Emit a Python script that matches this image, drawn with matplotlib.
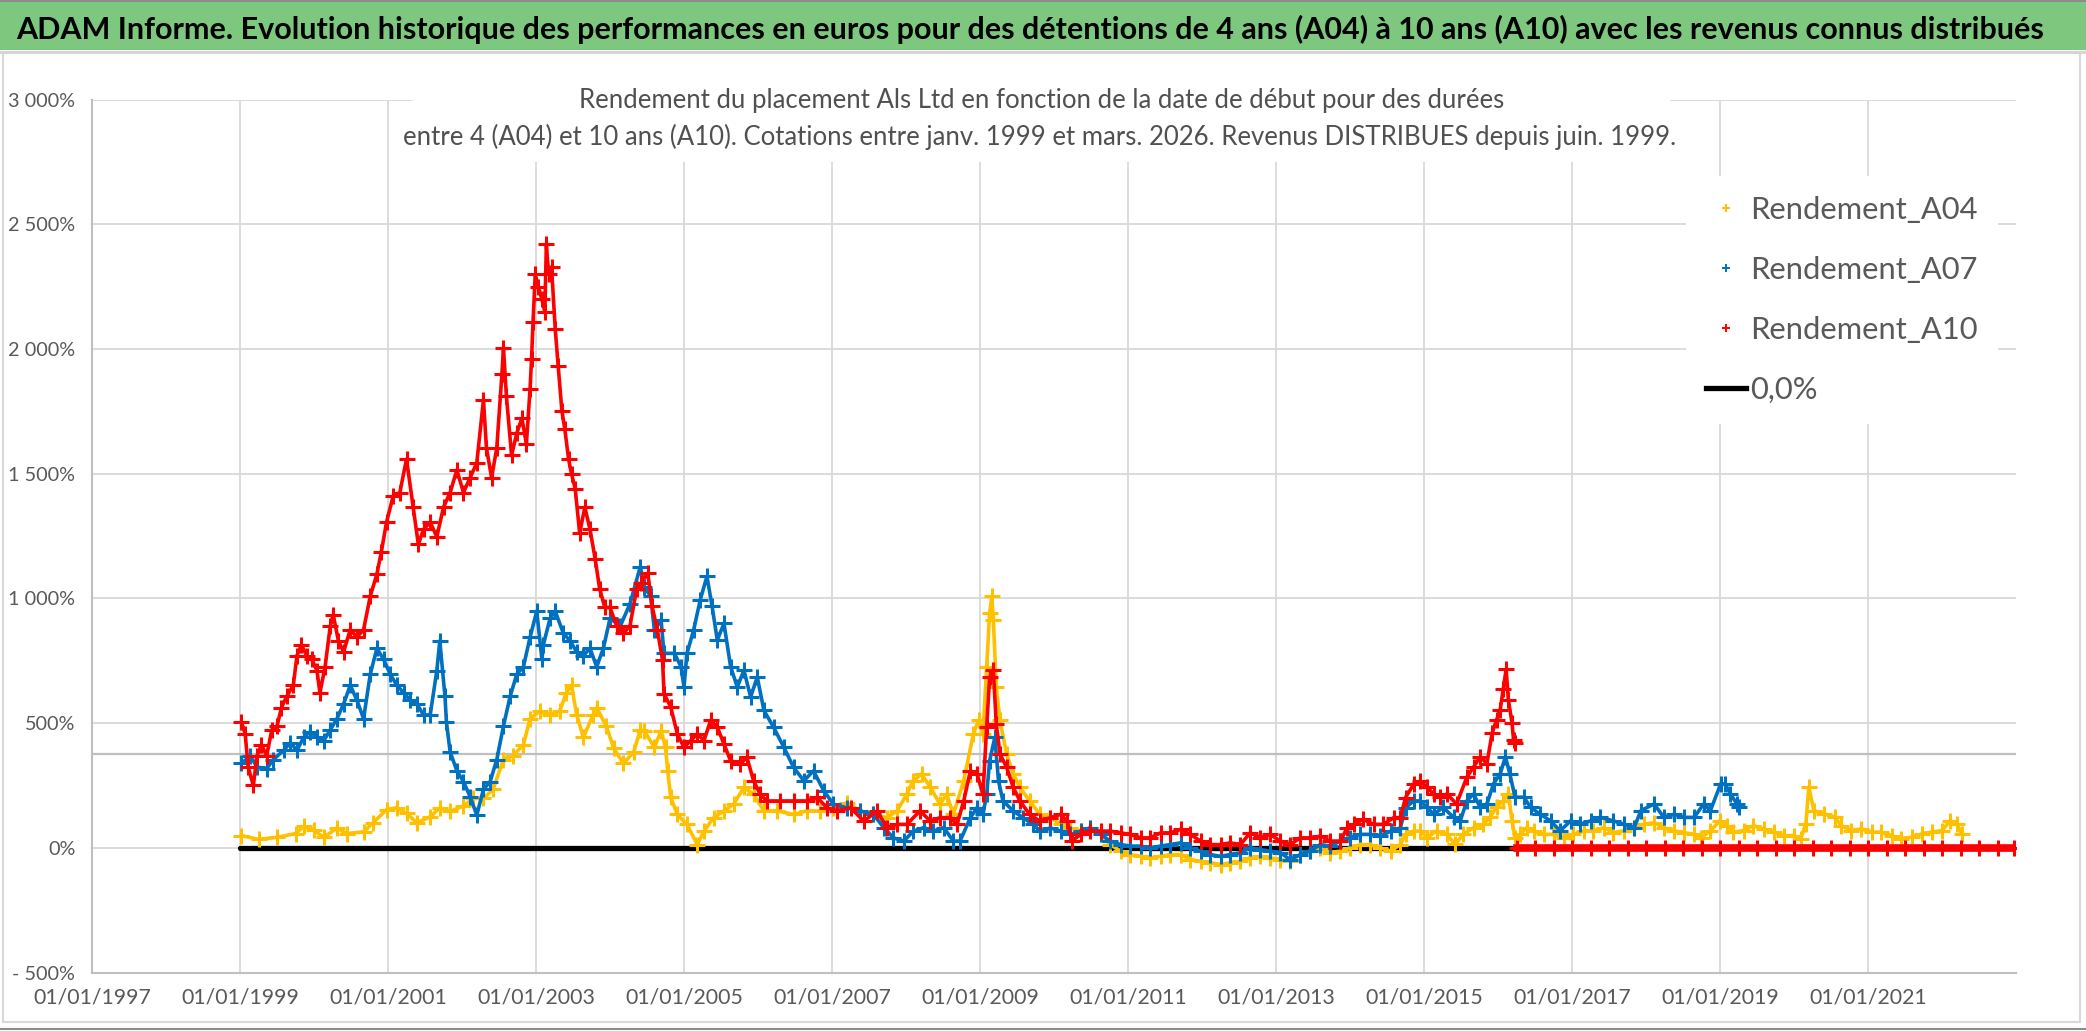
import matplotlib
matplotlib.use("Agg")
import matplotlib.pyplot as plt
from matplotlib.lines import Line2D
from matplotlib.patches import Rectangle
from matplotlib.ticker import FixedLocator, FuncFormatter

# ---- data (x in decimal years, y in %) ----
a04_years = [1999.02, 1999.25, 1999.50, 1999.75, 1999.86, 2000.00, 2000.13, 2000.31, 2000.44, 2000.67,
             2000.80, 2000.98, 2001.12, 2001.25, 2001.39, 2001.57, 2001.70, 2001.84, 2002.02, 2002.15,
             2002.29, 2002.42, 2002.56, 2002.69, 2002.83, 2002.92, 2003.05, 2003.19, 2003.32, 2003.41,
             2003.48, 2003.55, 2003.64, 2003.77, 2003.82, 2003.95, 2004.05, 2004.18, 2004.32, 2004.41,
             2004.46, 2004.60, 2004.69, 2004.75, 2004.78, 2004.82, 2004.91, 2005.04, 2005.18, 2005.27,
             2005.40, 2005.54, 2005.67, 2005.81, 2005.94, 2006.08, 2006.26, 2006.48, 2006.66, 2006.84,
             2007.02, 2007.20, 2007.38, 2007.56, 2007.74, 2007.88, 2008.01, 2008.10, 2008.21, 2008.33,
             2008.46, 2008.55, 2008.64, 2008.78, 2008.91, 2008.98, 2009.04, 2009.09, 2009.13, 2009.16,
             2009.18, 2009.22, 2009.27, 2009.36, 2009.45, 2009.54, 2009.67, 2009.81,
             2009.95, 2010.09, 2010.22, 2010.36, 2010.49, 2010.63, 2010.76, 2010.90, 2011.03, 2011.17,
             2011.30, 2011.44, 2011.57, 2011.71, 2011.84, 2011.98, 2012.11, 2012.25, 2012.38, 2012.52,
             2012.65, 2012.79, 2012.92, 2013.06, 2013.19, 2013.33, 2013.46, 2013.60, 2013.73, 2013.87,
             2014.00, 2014.14, 2014.27, 2014.41, 2014.55, 2014.68, 2014.75, 2014.86, 2014.95,
             2015.04, 2015.17, 2015.31, 2015.42, 2015.53, 2015.67, 2015.80, 2015.89, 2015.98, 2016.07,
             2016.14, 2016.19, 2016.23, 2016.30, 2016.39, 2016.48, 2016.62, 2016.75, 2016.89, 2017.02,
             2017.16, 2017.29, 2017.43, 2017.56, 2017.70, 2017.84, 2017.97, 2018.11, 2018.24, 2018.38,
             2018.51, 2018.65, 2018.74, 2018.87,
             2019.00, 2019.09, 2019.18, 2019.32, 2019.45, 2019.59, 2019.73, 2019.86, 2020.00, 2020.09,
             2020.16, 2020.20, 2020.27, 2020.41, 2020.55, 2020.64, 2020.77, 2020.91, 2021.05, 2021.18,
             2021.32, 2021.45, 2021.59, 2021.73, 2021.86, 2022.00, 2022.11, 2022.20, 2022.27]
a04_values = [49, 34, 42, 57, 86, 71, 42, 79, 57, 64,
              101, 153, 161, 138, 101, 124, 161, 146, 168, 198,
              198, 235, 354, 369, 414, 518, 548, 533, 548, 622,
              652, 533, 443, 533, 562, 488, 399, 339, 384, 473,
              470, 403, 470, 403, 309, 202, 134, 94, 13, 67,
              121, 148, 175, 242, 215, 148, 148, 134, 148, 148,
              161, 181, 148, 134, 121, 148, 215, 269, 296, 242,
              175, 215, 134, 269, 457, 511, 457, 726, 941, 1008,
              914, 645, 511, 376, 296, 242, 188, 134,
              121, 94, 80, 67, 80, 54, 13, -13, -27, -34,
              -40, -34, -27, -27, -47, -54, -60, -67, -60, -54,
              -40, -34, -40, -47, -54, -27, -13, 0, -20, -13,
              0, 13, 13, 0, -13, 13, 54, 67, 67,
              41, 68, 54, 14, 54, 81, 95, 122, 162, 189,
              216, 108, 41, 54, 81, 68, 54, 54, 41, 54,
              68, 68, 81, 61, 68, 81, 95, 101, 81, 68,
              61, 54, 41, 68,
              109, 89, 63, 69, 89, 76, 63, 49, 49, 36,
              96, 243, 149, 136, 123, 89, 69, 76, 63, 63,
              49, 36, 43, 56, 63, 69, 109, 96, 56]

a07_years = [1999.02, 1999.14, 1999.23, 1999.36, 1999.45, 1999.59, 1999.68, 1999.77, 1999.86, 1999.95,
             2000.04, 2000.13, 2000.22, 2000.31, 2000.40, 2000.49, 2000.58, 2000.67, 2000.76, 2000.85,
             2000.94, 2001.03, 2001.12, 2001.21, 2001.30, 2001.39, 2001.48, 2001.57, 2001.66, 2001.70,
             2001.77, 2001.79, 2001.84, 2001.93, 2002.02, 2002.11, 2002.20, 2002.29, 2002.38, 2002.47,
             2002.56, 2002.65, 2002.74, 2002.83, 2002.92, 2003.01, 2003.08, 2003.10, 2003.19, 2003.26,
             2003.37, 2003.46, 2003.55, 2003.64, 2003.73, 2003.82, 2003.91, 2004.00, 2004.14, 2004.27,
             2004.41,
             2004.46, 2004.55, 2004.60, 2004.69, 2004.73, 2004.87, 2004.96, 2005.00, 2005.04, 2005.13,
             2005.22, 2005.31, 2005.38, 2005.45, 2005.54, 2005.63, 2005.72, 2005.81, 2005.90, 2005.99,
             2006.08, 2006.21, 2006.35, 2006.48, 2006.62, 2006.75, 2006.89, 2007.02, 2007.20, 2007.38,
             2007.56, 2007.70, 2007.83, 2007.97, 2008.10, 2008.24, 2008.37, 2008.51, 2008.64, 2008.73,
             2008.87, 2008.96, 2009.04, 2009.09, 2009.13, 2009.20, 2009.25, 2009.31, 2009.45, 2009.58,
             2009.72, 2009.81,
             2009.95, 2010.09, 2010.22, 2010.36, 2010.49, 2010.63, 2010.76, 2010.90, 2011.03, 2011.17,
             2011.30, 2011.44, 2011.57, 2011.71, 2011.84, 2011.98, 2012.11, 2012.25, 2012.38, 2012.52,
             2012.65, 2012.79, 2012.92, 2013.06, 2013.19, 2013.33, 2013.46, 2013.60, 2013.73, 2013.87,
             2014.00, 2014.14, 2014.27, 2014.41, 2014.55, 2014.68, 2014.75, 2014.86, 2014.95,
             2015.04, 2015.13, 2015.26, 2015.40, 2015.49, 2015.58, 2015.67, 2015.76, 2015.85, 2015.94,
             2016.03, 2016.10, 2016.16, 2016.23, 2016.35, 2016.44, 2016.57, 2016.71, 2016.84, 2016.98,
             2017.11, 2017.25, 2017.38, 2017.56, 2017.70, 2017.84, 2017.93, 2018.11, 2018.24, 2018.38,
             2018.51, 2018.65, 2018.78, 2018.87, 2019.01,
             2019.07, 2019.14, 2019.23, 2019.25]
a07_values = [339, 369, 324, 317, 354, 391, 421, 391, 443, 466,
              443, 429, 473, 518, 577, 652, 592, 518, 696, 800,
              756, 696, 652, 622, 592, 577, 533, 533, 711, 830,
              607, 503, 384, 310, 265, 205, 131, 235, 265, 354,
              488, 607, 696, 726, 845, 949, 756, 815, 920, 949,
              860, 830, 786, 771, 800, 726, 800, 920, 890, 979,
              1128,
              1048, 1008, 873, 914, 780, 780, 726, 645, 780, 873,
              995, 1089, 968, 833, 900, 726, 645, 712, 605, 685,
              551, 484, 403, 323, 269, 309, 228, 175, 161, 148,
              134, 81, 40, 27, 67, 81, 67, 81, 27, 27,
              121, 161, 134, 215, 349, 443, 269, 188, 148, 121,
              94, 67,
              80, 67, 54, 67, 80, 54, 27, 13, 7, 7,
              0, 7, 13, 20, 0, -13, -27, -34, -27, -20,
              0, -7, -13, -20, -47, -27, -13, 13, 7, 27,
              40, 54, 54, 47, 67, 80, 161, 188, 188,
              162, 135, 162, 122, 108, 189, 216, 162, 176, 257,
              297, 365, 297, 203, 203, 162, 135, 108, 68, 108,
              95, 108, 122, 108, 95, 81, 149, 176, 122, 135,
              122, 122, 176, 149, 257,
              256, 216, 176, 163]

a10_years = [1999.02, 1999.07, 1999.11, 1999.18, 1999.23, 1999.29, 1999.36, 1999.43, 1999.50, 1999.56,
             1999.63, 1999.72, 1999.77, 1999.83, 1999.90, 1999.97, 2000.04, 2000.08, 2000.15, 2000.22,
             2000.26, 2000.33, 2000.40, 2000.49, 2000.58, 2000.67, 2000.76, 2000.85, 2000.91, 2000.98,
             2001.07, 2001.16, 2001.25, 2001.34, 2001.41, 2001.48, 2001.57, 2001.66, 2001.75, 2001.84,
             2001.93, 2002.02, 2002.11, 2002.20, 2002.29, 2002.33, 2002.40, 2002.47, 2002.54, 2002.56,
             2002.60, 2002.67, 2002.74, 2002.81, 2002.87, 2002.92, 2002.94, 2002.96, 2002.99, 2003.03,
             2003.08, 2003.12, 2003.14, 2003.17, 2003.21, 2003.26, 2003.30, 2003.35, 2003.39, 2003.44,
             2003.48, 2003.53, 2003.59, 2003.66, 2003.73, 2003.80, 2003.86, 2003.93, 2004.00, 2004.09,
             2004.18, 2004.27, 2004.36, 2004.42,
             2004.51, 2004.57, 2004.64, 2004.71, 2004.73, 2004.82, 2004.91, 2005.00, 2005.09, 2005.18,
             2005.27, 2005.36, 2005.45, 2005.54, 2005.63, 2005.76, 2005.85, 2005.94, 2006.03, 2006.12,
             2006.30, 2006.48, 2006.66, 2006.80, 2006.93, 2007.07, 2007.25, 2007.43, 2007.61, 2007.74,
             2007.88, 2008.01, 2008.19, 2008.33, 2008.46, 2008.60, 2008.69, 2008.78, 2008.87, 2008.96,
             2009.04, 2009.09, 2009.13, 2009.18, 2009.22, 2009.27, 2009.36, 2009.45, 2009.54, 2009.67,
             2009.81,
             2009.95, 2010.09, 2010.18, 2010.24, 2010.36, 2010.49, 2010.63, 2010.76, 2010.90, 2011.03,
             2011.17, 2011.30, 2011.44, 2011.57, 2011.71, 2011.84, 2011.98, 2012.11, 2012.25, 2012.38,
             2012.52, 2012.65, 2012.79, 2012.92, 2013.06, 2013.19, 2013.33, 2013.46, 2013.60, 2013.73,
             2013.87, 2013.96, 2014.05, 2014.18, 2014.32, 2014.45, 2014.59, 2014.68, 2014.75, 2014.86,
             2014.95,
             2015.04, 2015.13, 2015.22, 2015.31, 2015.44, 2015.58, 2015.67, 2015.76, 2015.85, 2015.92,
             2015.98, 2016.03, 2016.07, 2016.11, 2016.14, 2016.19, 2016.21, 2016.23]
a10_values = [503, 458, 324, 250, 369, 414, 369, 473, 488, 562,
              607, 652, 771, 815, 771, 756, 711, 622, 726, 890,
              934, 830, 786, 875, 845, 875, 1009, 1098, 1187, 1306,
              1411, 1425, 1559, 1366, 1217, 1277, 1306, 1247, 1366, 1425,
              1515, 1425, 1485, 1544, 1797, 1604, 1485, 1604, 1902, 2006,
              1812, 1574, 1663, 1723, 1619, 1842, 1961, 2110, 2300, 2250,
              2200, 2150, 2420, 2300, 2330, 2080, 1931, 1753, 1678, 1559,
              1500, 1440, 1262, 1366, 1277, 1158, 1039, 964, 964, 890,
              860, 890, 1039, 1062,
              1102, 968, 873, 753, 618, 565, 457, 403, 430, 457,
              430, 511, 484, 417, 349, 336, 363, 269, 215, 188,
              188, 188, 188, 202, 161, 148, 161, 107, 148, 81,
              94, 94, 148, 107, 121, 121, 94, 188, 309, 296,
              215, 484, 685, 712, 497, 376, 323, 242, 188, 134,
              107,
              121, 134, 107, 27, 54, 67, 67, 67, 60, 54,
              40, 40, 60, 60, 74, 54, 27, 13, 13, 20,
              13, 60, 40, 54, 27, 13, 40, 40, 47, 27,
              27, 80, 94, 114, 94, 94, 121, 121, 201, 255,
              268,
              243, 216, 203, 216, 176, 284, 324, 365, 338, 459,
              513, 554, 635, 716, 594, 500, 432, 419]
# after mid-2016 the 10-year series sits at 0 until the end of the axis
a10_tail_years = [2016.25, 2016.50, 2016.75, 2017.00, 2017.25, 2017.50, 2017.75, 2018.00, 2018.25, 2018.50,
                  2018.75, 2019.00, 2019.25, 2019.50, 2019.75, 2020.00, 2020.25, 2020.50, 2020.75, 2021.00,
                  2021.25, 2021.50, 2021.75, 2022.00, 2022.25, 2022.50, 2022.75, 2022.97]
a10_tail_values = [0, 0, 0, 0, 0, 0, 0, 0, 0, 0,
                   0, 0, 0, 0, 0, 0, 0, 0, 0, 0,
                   0, 0, 0, 0, 0, 0, 0, 0]

zero_years = [1999.0, 2023.0]
zero_values = [0, 0]

x_tick_years = [1997, 1999, 2001, 2003, 2005, 2007, 2009, 2011, 2013, 2015, 2017, 2019, 2021]
y_ticks = [-500, 0, 500, 1000, 1500, 2000, 2500, 3000]
series_labels = ["Rendement_A04", "Rendement_A07", "Rendement_A10", "0,0%"]
series_colors = ["#FFC000", "#0070C0", "#FF0000", "#000000"]

title = ("ADAM Informe. Evolution historique des performances en euros pour des détentions "
         "de 4 ans (A04) à 10 ans (A10) avec les revenus connus distribués")
sub1 = "Rendement du placement Als Ltd en fonction de la date de début pour des durées"
sub2 = ("entre 4 (A04) et 10 ans (A10). Cotations entre janv. 1999 et mars. 2026. "
        "Revenus DISTRIBUES depuis juin. 1999.")

# ---- figure ----
W, H = 2086, 1031
plt.rcParams['font.family'] = ['Lato', 'DejaVu Sans']
GREY_TXT = "#595959"

fig = plt.figure(figsize=(W / 100, H / 100), dpi=100)
renderer = fig.canvas.get_renderer()


def fx(px):
    return px / W


def fy(py):
    return 1 - py / H


def measure(text, size, weight="normal"):
    t = fig.text(0, 0, text, fontsize=size, fontweight=weight)
    bb = t.get_window_extent(renderer)
    t.remove()
    return bb.width, bb.height


def fit(text, target_px, weight="normal"):
    return 20 * target_px / measure(text, 20, weight)[0]


# banner + chart frame
fig.add_artist(Rectangle((0, fy(50)), 1, 50 / H, transform=fig.transFigure,
                         facecolor="#7DC87E", edgecolor="none", zorder=0))
fig.add_artist(Line2D([0, 1], [fy(1), fy(1)], color="#8C8C8C", lw=1.5))
fig.add_artist(Line2D([0, 1], [fy(52), fy(52)], color="#D4D4D4", lw=2))
fig.add_artist(Rectangle((fx(3), fy(1022)), fx(2080) - fx(3), (1022 - 53) / H,
                         transform=fig.transFigure, fill=False, edgecolor="#D9D9D9", lw=1.5))
fig.add_artist(Line2D([0, 1], [fy(1029), fy(1029)], color="#8C8C8C", lw=1.5))

fig.text(fx(16), fy(39), title, fontsize=fit(title, 2030, "bold"), fontweight="bold",
         color="black", ha="left", va="baseline")

# plot area
ax = fig.add_axes([fx(92), fy(972.5), fx(2016) - fx(92), (972.5 - 99.8) / H])
ax.set_xlim(1997, 2023)
ax.set_ylim(-500, 3000)
ax.set_axisbelow(True)
ax.xaxis.set_major_locator(FixedLocator(x_tick_years))
ax.yaxis.set_major_locator(FixedLocator(y_ticks))
ax.xaxis.set_major_formatter(FuncFormatter(lambda v, p: "01/01/%d" % round(v)))


def pct(v, p=None):
    s = "{:,}".format(abs(int(round(v)))).replace(",", " ") + "%"
    return "- " + s if v < 0 else s


ax.yaxis.set_major_formatter(FuncFormatter(pct))
ax.grid(True, color="#D9D9D9", lw=1.3)
for side in ["top", "right"]:
    ax.spines[side].set_visible(False)
for side in ["left", "bottom"]:
    ax.spines[side].set_color("#BFBFBF")
    ax.spines[side].set_linewidth(1.5)

ax.tick_params(axis="y", length=0, pad=12, labelcolor=GREY_TXT, labelsize=fit("3 000%", 67))
ax.tick_params(axis="x", length=0, pad=11, labelcolor=GREY_TXT, labelsize=fit("01/01/1997", 118))

ax.axhline(376, color="#BFBFBF", lw=1.6, zorder=0.6)

# series
ax.plot(zero_years, zero_values, color="black", lw=3.8, zorder=2, solid_capstyle="round")
style = dict(lw=2.6, marker="+", ms=11, mew=2.2)
ax.plot(a04_years, a04_values, color=series_colors[0], zorder=3, **style)
ax.plot(a07_years, a07_values, color=series_colors[1], zorder=4, **style)
ax.plot(a10_years, a10_values, color=series_colors[2], zorder=5, **style)
ax.plot(a10_tail_years, a10_tail_values, color=series_colors[2], zorder=5,
        lw=5.5, marker="+", ms=11, mew=2.2)

# subtitle box (hides the grid behind it)
ax.add_patch(Rectangle((fx(413), fy(162)), fx(1670) - fx(413), (162 - 78) / H,
                       transform=fig.transFigure, facecolor="white", edgecolor="none",
                       zorder=1, clip_on=False))
sub_size = fit(sub1, 925)
fig.text(fx(1042), fy(108), sub1, fontsize=sub_size, color="#505050", ha="center", va="baseline")
fig.text(fx(1040), fy(145), sub2, fontsize=sub_size, color="#505050", ha="center", va="baseline")

# legend
leg_size = fit("Rendement_A04", 228)
fs_px = leg_size * 100 / 72
text_h = measure("Rendement_A04", leg_size)[1]
pad_px = 20
handles = [Line2D([], [], ls="none", marker="+", color=c, ms=6, mew=1.4) for c in series_colors[:3]]
handles.append(Line2D([], [], color="black", lw=3.8))
leg = ax.legend(handles, series_labels, loc="upper left",
                bbox_to_anchor=(fx(1706 - pad_px), fy(210 - text_h / 2 - pad_px)),
                bbox_transform=fig.transFigure,
                fontsize=leg_size, labelcolor=GREY_TXT, frameon=True, facecolor="white",
                edgecolor="none", fancybox=False, framealpha=1, borderaxespad=0,
                borderpad=pad_px / fs_px, handlelength=40 / fs_px, handletextpad=4 / fs_px,
                labelspacing=(60 - text_h) / fs_px)
leg.set_zorder(6)

fig.savefig("out.png", dpi=100)
